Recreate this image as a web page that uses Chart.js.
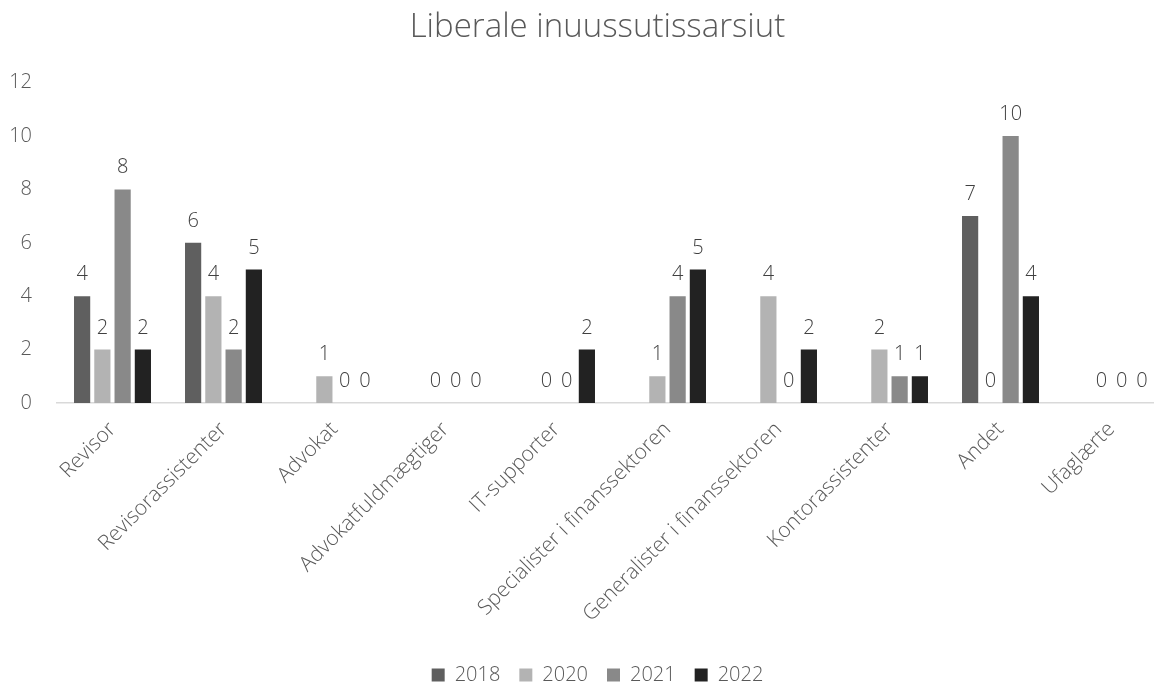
<!DOCTYPE html>
<html>
<head>
<meta charset="utf-8">
<script src="https://cdn.jsdelivr.net/npm/chart.js@4/dist/chart.umd.min.js"></script>
<style>
  html, body { margin: 0; padding: 0; overflow: hidden; background: #fff; }
  #wrap { position: absolute; left: 0; top: 0; width: 1190px; height: 695px; }
</style>
</head>
<body>
<div id="wrap"><canvas id="chart" width="1190" height="695"></canvas></div>
<script>
var categories = ['Revisor', 'Revisorassistenter', 'Advokat', 'Advokatfuldmægtiger', 'IT-supporter',
	'Specialister i finanssektoren', 'Generalister i finanssektoren', 'Kontorassistenter', 'Andet', 'Ufaglærte'];
var seriesNames = ['2018', '2020', '2021', '2022'];
var values2018 = [4, 6, null, null, null, null, null, null, 7, null];
var values2020 = [2, 4, 1, 0, 0, 1, 4, 2, 0, 0];
var values2021 = [8, 2, 0, 0, 0, 4, 0, 1, 10, 0];
var values2022 = [2, 5, 0, 0, 2, 5, 2, 1, 4, 0];
var yTicks = [0, 2, 4, 6, 8, 10, 12];
var colors = ['#5f5f5f', '#b3b3b3', '#898989', '#222222'];

var fontFamily = '"Open Sans", "Segoe UI", sans-serif';

// draws value above every bar (like excel data labels)
var valueLabels = {
	id: 'valueLabels',
	afterLayout: function(chart) {
		// let the y tick labels reach past the narrow axis box
		chart.scales.y.left = 0;
	},
	afterDatasetsDraw: function(chart) {
		var ctx = chart.ctx;
		ctx.save();
		ctx.font = '300 20px ' + fontFamily;
		ctx.fillStyle = '#404040';
		ctx.textAlign = 'center';
		ctx.textBaseline = 'alphabetic';
		chart.data.datasets.forEach(function(ds, i) {
			var meta = chart.getDatasetMeta(i);
			meta.data.forEach(function(bar, j) {
				var v = ds.data[j];
				if (v === null || v === undefined) return;
				ctx.fillText(String(v), bar.x, bar.y - 16);
			});
		});
		ctx.restore();
	}
};

var allValues = [values2018, values2020, values2021, values2022];

new Chart(document.getElementById('chart'), {
	type: 'bar',
	data: {
		labels: categories,
		datasets: seriesNames.map(function(name, i) {
			return {
				label: name,
				data: allValues[i],
				backgroundColor: colors[i],
				categoryPercentage: 0.73,
				barPercentage: 0.8
			};
		})
	},
	options: {
		responsive: false,
		animation: false,
		devicePixelRatio: 1,
		layout: { padding: { left: 28, right: 23, top: 8, bottom: 0 } },
		plugins: {
			title: {
				display: true,
				text: 'Liberale inuussutissarsiut',
				color: '#595959',
				font: { family: fontFamily, size: 33, weight: '300' },
				padding: { top: 0, bottom: 35 }
			},
			legend: {
				position: 'bottom',
				labels: {
					color: '#595959',
					font: { family: fontFamily, size: 20, weight: '300' },
					boxWidth: 13,
					boxHeight: 13,
					padding: 19
				}
			},
			tooltip: { enabled: false }
		},
		scales: {
			x: {
				grid: { display: false, drawTicks: false },
				border: { color: '#d9d9d9', width: 1.5 },
				afterFit: function(scale) {
					scale.paddingLeft = 0;
					scale.paddingRight = 0;
					scale.height = 243;
				},
				ticks: {
					color: '#595959',
					font: { family: fontFamily, size: 21, weight: '300' },
					autoSkip: false,
					minRotation: 45,
					maxRotation: 45,
					padding: 14
				}
			},
			y: {
				min: 0,
				max: 12,
				afterBuildTicks: function(axis) {
					axis.ticks = yTicks.map(function(v) { return { value: v }; });
				},
				afterFit: function(scale) {
					scale.width = 29;
				},
				grid: { display: false, drawTicks: false },
				border: { display: false },
				ticks: {
					color: '#595959',
					font: { family: fontFamily, size: 20, weight: '300' },
					padding: 25
				}
			}
		}
	},
	plugins: [valueLabels]
});
</script>
</body>
</html>
